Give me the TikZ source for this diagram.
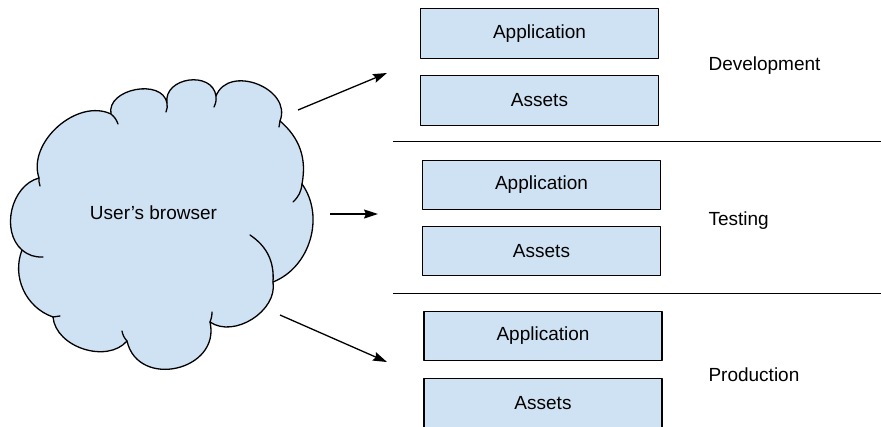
\documentclass[tikz,border=0pt]{standalone}
\usepackage{fontspec}
\setmainfont{Liberation Sans}
\usetikzlibrary{arrows.meta}
\definecolor{paleblue}{HTML}{CFE2F3}
\tikzset{
  envbox/.style={draw=black, line width=1.1pt, fill=paleblue, minimum width=238pt, minimum height=49.5pt, inner sep=0pt},
  cloudline/.style={line width=1.3pt, line join=round, line cap=round},
  flow/.style={line width=1.3pt, -{Stealth[length=14pt, width=9pt, inset=2pt]}}
}
\begin{document}
\begin{tikzpicture}[x=1pt, y=1pt, font=\fontsize{19}{23}\selectfont, line join=round]
  \useasboundingbox (0,0) rectangle (881,-426);
  % cloud
  \draw[cloudline, fill=paleblue] (22,-250) to[bend left=62] (39,-178) to[bend left=67] (111,-114)
    to[bend left=90, looseness=1.15] (167,-103) to[bend left=90, looseness=1.35] (216,-96)
    to[bend left=90, looseness=1.3] (280,-121) to[bend left=30] (302,-184) to[bend left=52] (273,-282)
    to[bend left=67] (210,-322) to[bend left=90, looseness=1.5] (127,-341) to[bend left=67] (53,-317)
    to[bend left=46] (22,-250) -- cycle;
  \draw[cloudline] (22,-250) to[bend right=20] (43,-257);
  \draw[cloudline] (39,-178) to[bend right=10] (40,-186);
  \draw[cloudline] (111,-114) to[bend left=15] (118,-124);
  \draw[cloudline] (167,-103) to[bend left=15] (166,-112);
  \draw[cloudline] (216,-96) to[bend left=15] (214,-107);
  \draw[cloudline] (280,-121) to[bend left=10] (279,-127);
  \draw[cloudline] (302,-184) to[bend left=20] (293,-202);
  \draw[cloudline] (273,-282) to[bend right=30] (250,-235);
  \draw[cloudline] (210,-322) to[bend right=10] (212,-312);
  \draw[cloudline] (127,-341) to[bend left=15] (122,-331);
  \draw[cloudline] (53,-317) to[bend right=10] (60,-316);
  \node (browser) at (153.5,-213) {User’s browser};
  % arrows
  \coordinate (devFrom) at (298,-110);  \coordinate (devTo) at (387,-73);
  \coordinate (testFrom) at (330,-214); \coordinate (testTo) at (378,-214);
  \coordinate (prodFrom) at (280,-315); \coordinate (prodTo) at (387,-362);
  \draw[flow] (devFrom) -- (devTo);
  \draw[flow] (testFrom) -- (testTo);
  \draw[flow] (prodFrom) -- (prodTo);
  % environments
  \foreach \stage/\x/\ya/\yb/\yl/\lab in {dev/539.5/33.5/100.5/66/Development, test/541.5/185/251/221/Testing, prod/543/336/403.5/375/Production}{
    \node[envbox] (app-\stage) at (\x,-\ya) {Application};
    \node[envbox] (assets-\stage) at (\x,-\yb) {Assets};
    \node[anchor=west] (label-\stage) at (705,-\yl) {\lab};
  }
  % separators
  \coordinate (sepA) at (393,-141.5); \coordinate (sepAend) at (881,-141.5);
  \coordinate (sepB) at (393,-293.5); \coordinate (sepBend) at (881,-293.5);
  \draw[line width=1.3pt] (sepA) -- (sepAend);
  \draw[line width=1.3pt] (sepB) -- (sepBend);
\end{tikzpicture}
\end{document}
